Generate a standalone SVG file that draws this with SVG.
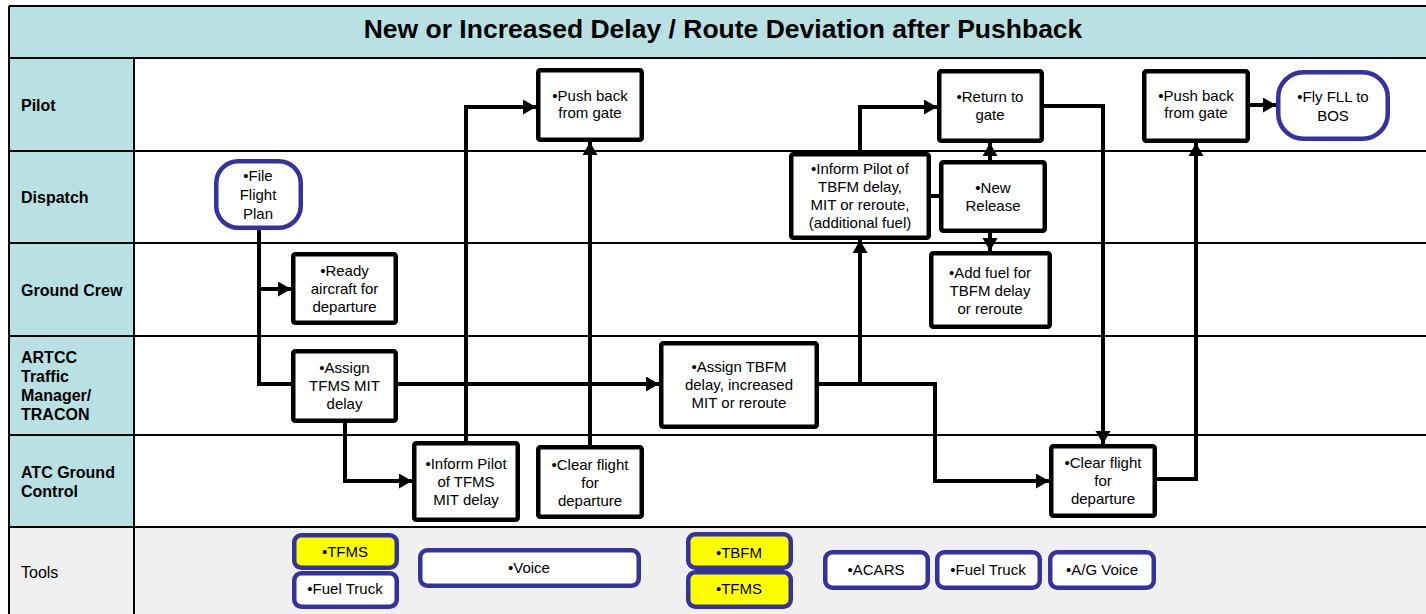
<svg xmlns="http://www.w3.org/2000/svg" width="1426" height="614" viewBox="0 0 1426 614">
  <defs>
    <style>
      .lane-label { font-family: "Liberation Sans", Arial, sans-serif; font-size: 16px; font-weight: bold; fill: #000; }
      .lane-plain { font-family: "Liberation Sans", Arial, sans-serif; font-size: 16px; font-weight: normal; fill: #000; }
      .title { font-family: "Liberation Sans", Arial, sans-serif; font-size: 26.5px; font-weight: bold; fill: #000; }
      .txt { font-family: "Liberation Sans", Arial, sans-serif; font-size: 15px; fill: #000; text-anchor: middle; }
      .box { fill: #fff; stroke: #000; stroke-width: 4.5; }
      .term { fill: #fff; stroke: #333399; stroke-width: 4.5; }
      .tool { fill: #fff; stroke: #333399; stroke-width: 4.5; }
      .tool-hl { fill: #ffff00; stroke: #333399; stroke-width: 4.5; }
      .grid { stroke: #000; stroke-width: 2; fill: none; }
      .flow { stroke: #000; stroke-width: 4; fill: none; stroke-linejoin: miter; }
    </style>
    <marker id="arrow" markerUnits="userSpaceOnUse" markerWidth="14" markerHeight="16" refX="13" refY="7.5" orient="auto">
      <path d="M0,0 L13,7.5 L0,15 Z" fill="#000"/>
    </marker>
  </defs>

  <!-- swimlane table -->
  <g id="lanes">
    <rect x="9" y="6" width="1421" height="52" fill="#b9e0e3"/>
    <rect x="9" y="58" width="125" height="469" fill="#b9e0e3"/>
    <rect x="134" y="58" width="1296" height="469" fill="#fff"/>
    <rect x="9" y="527" width="1421" height="90" fill="#f0f0f0"/>
    <path class="grid" d="M9,6 H1430 M9,6 V614 M134,58 V614 M9,58 H1430 M9,151 H1430 M9,243 H1430 M9,336 H1430 M9,435 H1430 M9,527 H1430"/>
    <text class="title" x="723" y="38" text-anchor="middle">New or Increased Delay / Route Deviation after Pushback</text>
    <text class="lane-label" x="21" y="111">Pilot</text>
    <text class="lane-label" x="21" y="203">Dispatch</text>
    <text class="lane-label" x="21" y="296">Ground Crew</text>
    <text class="lane-label" x="21" y="363">ARTCC</text>
    <text class="lane-label" x="21" y="382">Traffic</text>
    <text class="lane-label" x="21" y="401">Manager/</text>
    <text class="lane-label" x="21" y="420">TRACON</text>
    <text class="lane-label" x="21" y="478">ATC Ground</text>
    <text class="lane-label" x="21" y="497">Control</text>
    <text class="lane-plain" x="21" y="578">Tools</text>
  </g>

  <!-- connectors -->
  <g id="connectors">
    <path class="flow" d="M259,230 V384 H293"/>
    <path class="flow" d="M259,289 H291" marker-end="url(#arrow)"/>
    <path class="flow" d="M398,384 H659" marker-end="url(#arrow)"/>
    <path class="flow" d="M345,423 V481 H412" marker-end="url(#arrow)"/>
    <path class="flow" d="M466,441 V107 H536" marker-end="url(#arrow)"/>
    <path class="flow" d="M590,445 V142" marker-end="url(#arrow)"/>
    <path class="flow" d="M819,384 H935 V481 H1049" marker-end="url(#arrow)"/>
    <path class="flow" d="M860,384 V240" marker-end="url(#arrow)"/>
    <path class="flow" d="M860,152 V107 H937" marker-end="url(#arrow)"/>
    <path class="flow" d="M931,196 H939"/>
    <path class="flow" d="M990,160 V143" marker-end="url(#arrow)"/>
    <path class="flow" d="M990,233 V251" marker-end="url(#arrow)"/>
    <path class="flow" d="M1044,106 H1103 V444" marker-end="url(#arrow)"/>
    <path class="flow" d="M1157,479 H1196 V143" marker-end="url(#arrow)"/>
    <path class="flow" d="M1250,105 H1276" marker-end="url(#arrow)"/>
  </g>

  <!-- process nodes -->
  <g id="file-flight-plan">
    <rect class="term" x="216.25" y="161.25" width="84.5" height="66.5" rx="22"/>
    <text class="txt" x="258" y="181">•File</text>
    <text class="txt" x="258" y="200">Flight</text>
    <text class="txt" x="258" y="219">Plan</text>
  </g>
  <g id="ready-aircraft">
    <rect class="box" x="293.25" y="254.25" width="102.5" height="68.5" rx="2"/>
    <text class="txt" x="344.5" y="276">•Ready</text>
    <text class="txt" x="344.5" y="294">aircraft for</text>
    <text class="txt" x="344.5" y="312">departure</text>
  </g>
  <g id="assign-tfms">
    <rect class="box" x="293.25" y="351.25" width="102.5" height="69.5" rx="2"/>
    <text class="txt" x="344.5" y="373">•Assign</text>
    <text class="txt" x="344.5" y="391">TFMS MIT</text>
    <text class="txt" x="344.5" y="409">delay</text>
  </g>
  <g id="inform-pilot-tfms">
    <rect class="box" x="414.25" y="443.25" width="103.5" height="76.5" rx="2"/>
    <text class="txt" x="466" y="469">•Inform Pilot</text>
    <text class="txt" x="466" y="487">of TFMS</text>
    <text class="txt" x="466" y="505">MIT delay</text>
  </g>
  <g id="clear-flight-1">
    <rect class="box" x="538.25" y="447.25" width="103.5" height="69.5" rx="2"/>
    <text class="txt" x="590" y="470">•Clear flight</text>
    <text class="txt" x="590" y="488">for</text>
    <text class="txt" x="590" y="506">departure</text>
  </g>
  <g id="push-back-1">
    <rect class="box" x="538.25" y="70.25" width="103.5" height="69.5" rx="2"/>
    <text class="txt" x="590" y="101">•Push back</text>
    <text class="txt" x="590" y="118">from gate</text>
  </g>
  <g id="assign-tbfm">
    <rect class="box" x="661.25" y="343.25" width="155.5" height="83.5" rx="2"/>
    <text class="txt" x="739" y="372">•Assign TBFM</text>
    <text class="txt" x="739" y="390">delay, increased</text>
    <text class="txt" x="739" y="408">MIT or reroute</text>
  </g>
  <g id="inform-pilot-tbfm">
    <rect class="box" x="791.25" y="154.25" width="137.5" height="83.5" rx="2"/>
    <text class="txt" x="860" y="174">•Inform Pilot of</text>
    <text class="txt" x="860" y="192">TBFM delay,</text>
    <text class="txt" x="860" y="210">MIT or reroute,</text>
    <text class="txt" x="860" y="228">(additional fuel)</text>
  </g>
  <g id="new-release">
    <rect class="box" x="941.25" y="162.25" width="103.5" height="68.5" rx="2"/>
    <text class="txt" x="993" y="193">•New</text>
    <text class="txt" x="993" y="211">Release</text>
  </g>
  <g id="return-to-gate">
    <rect class="box" x="939.25" y="71.25" width="102.5" height="69.5" rx="2"/>
    <text class="txt" x="990" y="102">•Return to</text>
    <text class="txt" x="990" y="120">gate</text>
  </g>
  <g id="add-fuel">
    <rect class="box" x="931.25" y="253.25" width="118.5" height="73.5" rx="2"/>
    <text class="txt" x="990" y="278">•Add fuel for</text>
    <text class="txt" x="990" y="296">TBFM delay</text>
    <text class="txt" x="990" y="314">or reroute</text>
  </g>
  <g id="clear-flight-2">
    <rect class="box" x="1051.25" y="446.25" width="103.5" height="69.5" rx="2"/>
    <text class="txt" x="1103" y="468">•Clear flight</text>
    <text class="txt" x="1103" y="486">for</text>
    <text class="txt" x="1103" y="504">departure</text>
  </g>
  <g id="push-back-2">
    <rect class="box" x="1144.25" y="71.25" width="103.5" height="69.5" rx="2"/>
    <text class="txt" x="1196" y="101">•Push back</text>
    <text class="txt" x="1196" y="118">from gate</text>
  </g>
  <g id="fly-fll-bos">
    <rect class="term" x="1278.25" y="72.25" width="109.5" height="66.5" rx="25"/>
    <text class="txt" x="1333" y="102">•Fly FLL to</text>
    <text class="txt" x="1333" y="121">BOS</text>
  </g>

  <!-- tools row -->
  <g id="tool-tfms-1">
    <rect class="tool-hl" x="294.25" y="535.25" width="102.5" height="32.5" rx="7"/>
    <text class="txt" x="345" y="557">•TFMS</text>
  </g>
  <g id="tool-fuel-truck-1">
    <rect class="tool" x="294.25" y="573.25" width="102.5" height="33.5" rx="7"/>
    <text class="txt" x="345" y="594">•Fuel Truck</text>
  </g>
  <g id="tool-voice">
    <rect class="tool" x="420.25" y="550.25" width="218.5" height="35.5" rx="7"/>
    <text class="txt" x="529" y="573">•Voice</text>
  </g>
  <g id="tool-tbfm">
    <rect class="tool-hl" x="688.25" y="534.25" width="102.5" height="33.5" rx="7"/>
    <text class="txt" x="739" y="558">•TBFM</text>
  </g>
  <g id="tool-tfms-2">
    <rect class="tool-hl" x="688.25" y="572.25" width="102.5" height="34.5" rx="7"/>
    <text class="txt" x="739" y="594">•TFMS</text>
  </g>
  <g id="tool-acars">
    <rect class="tool" x="825.25" y="552.25" width="102.5" height="35.5" rx="7"/>
    <text class="txt" x="876" y="575">•ACARS</text>
  </g>
  <g id="tool-fuel-truck-2">
    <rect class="tool" x="937.25" y="552.25" width="102.5" height="35.5" rx="7"/>
    <text class="txt" x="988" y="575">•Fuel Truck</text>
  </g>
  <g id="tool-ag-voice">
    <rect class="tool" x="1050.25" y="552.25" width="103.5" height="35.5" rx="7"/>
    <text class="txt" x="1102" y="575">•A/G Voice</text>
  </g>
</svg>
